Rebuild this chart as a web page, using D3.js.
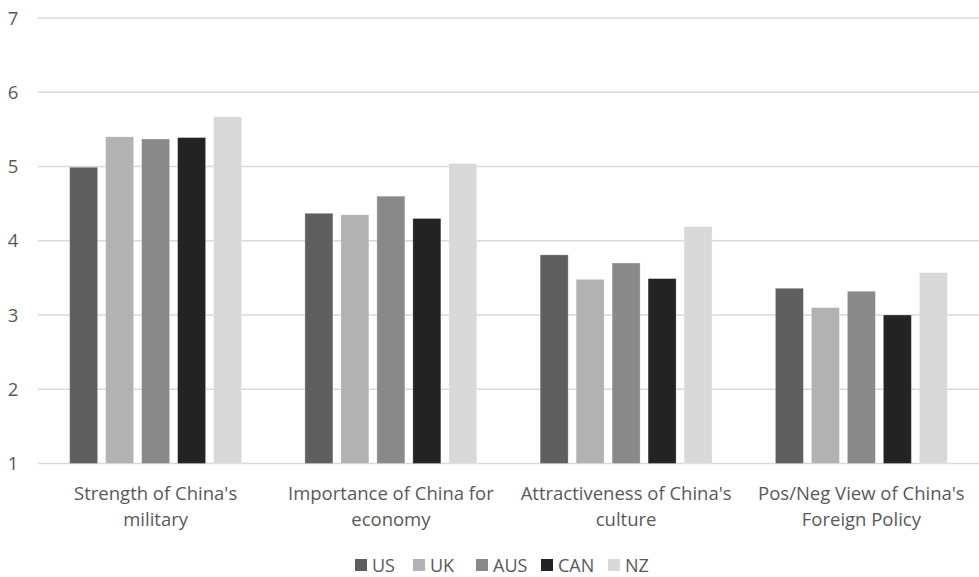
<!DOCTYPE html>
<html><head><meta charset="utf-8">
<script src="https://cdn.jsdelivr.net/npm/d3@7"></script>
<style>body{margin:0;background:#fff}svg{display:block}text{font-family:"Open Sans",sans-serif;fill:#595959}</style>
</head><body><svg id="c" width="979" height="577"></svg>
<script>
const categories = [["Strength of China's","military"],["Importance of China for","economy"],["Attractiveness of China's","culture"],["Pos/Neg View of China's","Foreign Policy"]];
const seriesNames = ["US","UK","AUS","CAN","NZ"];
const US  = [4.99, 4.37, 3.81, 3.36];
const UK  = [5.40, 4.35, 3.48, 3.10];
const AUS = [5.37, 4.60, 3.70, 3.32];
const CAN = [5.39, 4.30, 3.49, 3.00];
const NZ  = [5.67, 5.04, 4.19, 3.57];
const yTicks = [1,2,3,4,5,6,7];
const colors = ["#5f5f5f","#b2b2b2","#898989","#232323","#d9d9d9"];
const seriesVals = [US, UK, AUS, CAN, NZ];

const svg = d3.select("#c");
const x0 = d3.scaleBand().domain(d3.range(categories.length)).range([38, 979]).paddingInner(0).paddingOuter(0);
const x1 = d3.scaleBand().domain(d3.range(seriesNames.length)).range([0, x0.bandwidth()]).paddingInner(0.222).paddingOuter(0.88);
const y = d3.scaleLinear().domain([1,7]).range([463.5, 18]);

// gridlines
svg.append("g").selectAll("line").data(yTicks).join("line")
  .attr("x1",38).attr("x2",979).attr("y1",d=>y(d)).attr("y2",d=>y(d))
  .attr("stroke","#d9d9d9").attr("stroke-width",1.5);
// y tick labels
svg.append("g").selectAll("text").data(yTicks).join("text")
  .attr("x",13).attr("y",d=>y(d)+6.5).attr("text-anchor","middle")
  .attr("font-size",18.5).text(d=>d);

// bars
const g = svg.append("g");
seriesVals.forEach((vals,si)=>{
  g.selectAll(".s"+si).data(vals).join("rect")
    .attr("x",(d,i)=>x0(i)+x1(si)).attr("width",x1.bandwidth())
    .attr("y",d=>y(d)).attr("height",d=>y(1)-y(d))
    .attr("fill",colors[si]).attr("stroke","#ffffff").attr("stroke-opacity",0.35).attr("stroke-width",0.8);
});

// category labels
const cl = svg.append("g").selectAll("text").data(categories).join("text")
  .attr("text-anchor","middle").attr("font-size",18.5)
  .attr("x",(d,i)=>x0(i)+x0.bandwidth()/2).attr("y",500);
cl.selectAll("tspan").data(d=>d).join("tspan")
  .attr("x",function(){return this.parentNode.getAttribute("x");})
  .attr("dy",(d,i)=>i===0?0:26).text(d=>d);

// legend
const legX = [355, 413, 476, 541, 608];
const lg = svg.append("g").selectAll("g").data(seriesNames).join("g")
  .attr("transform",(d,i)=>`translate(${legX[i]},559)`);
lg.append("rect").attr("width",12).attr("height",12).attr("fill",(d,i)=>colors[i]);
lg.append("text").attr("x",17).attr("y",12.5).attr("font-size",18).text(d=>d);
</script></body></html>
